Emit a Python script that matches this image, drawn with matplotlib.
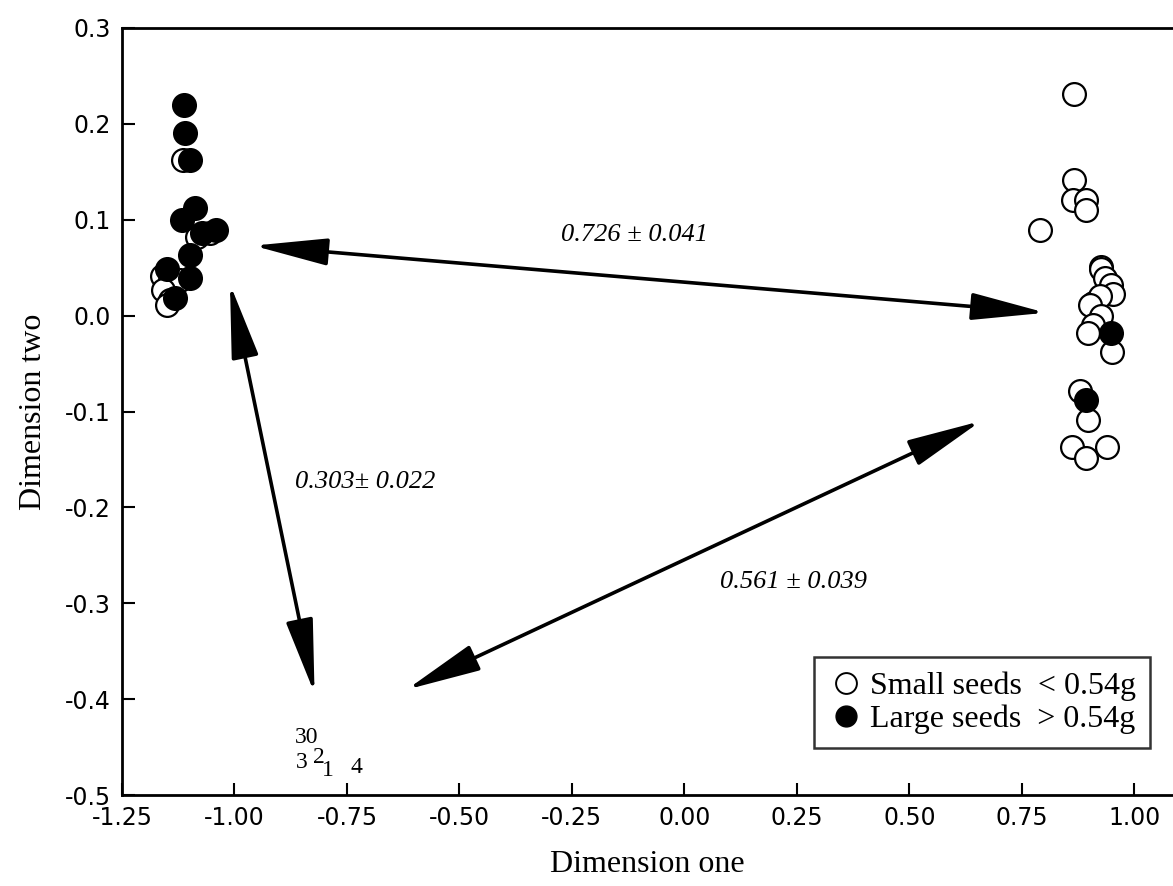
import numpy as np
import matplotlib.pyplot as plt
from matplotlib.lines import Line2D

# seed groups in the two ordination dimensions
small_x = [-1.114, -1.054, -1.084, -1.162, -1.143, -1.121, -1.158, -1.143, -1.151,
           0.866, 0.866, 0.864, 0.892, 0.892, 0.790, 0.927, 0.927, 0.934, 0.949,
           0.953, 0.909, 0.923, 0.901, 0.927, 0.909, 0.897, 0.951, 0.880, 0.897,
           0.862, 0.892, 0.939]
small_y = [0.162, 0.086, 0.082, 0.041, 0.037, 0.037, 0.027, 0.016, 0.011,
           0.231, 0.141, 0.121, 0.121, 0.110, 0.089, 0.051, 0.049, 0.039, 0.032,
           0.023, 0.013, 0.020, 0.011, 0.000, -0.010, -0.018, -0.038, -0.079, -0.109,
           -0.137, -0.149, -0.137]
large_x = [-1.112, -1.110, -1.099, -1.088, -1.117, -1.040, -1.073, -1.099, -1.151,
           -1.099, -1.132, 0.949, 0.893]
large_y = [0.220, 0.190, 0.162, 0.112, 0.100, 0.089, 0.086, 0.063, 0.049,
           0.039, 0.018, -0.018, -0.088]

# distances between groups (arrow ends and labels)
arrows = [((-0.958, 0.073), (0.803, 0.003)),
          ((-1.010, 0.033), (-0.822, -0.394)),
          ((-0.617, -0.390), (0.659, -0.110))]
dist_labels = ["0.726 ± 0.041", "0.303± 0.022", "0.561 ± 0.039"]
dist_pos = [(-0.11, 0.084), (-0.71, -0.174), (0.243, -0.278)]

# small numbers near the lower group
num_labels = ["30", "3", "2", "1", "4"]
num_x = [-0.839, -0.850, -0.812, -0.792, -0.728]
num_y = [-0.4395, -0.4666, -0.4604, -0.474, -0.4708]

xticks = [-1.25, -1.00, -0.75, -0.50, -0.25, 0.00, 0.25, 0.50, 0.75, 1.00]
xtick_labels = ["-1.25", "-1.00", "-0.75", "-0.50", "-0.25", "0.00", "0.25", "0.50", "0.75", "1.00"]
yticks = [-0.5, -0.4, -0.3, -0.2, -0.1, 0.0, 0.1, 0.2, 0.3]
ytick_labels = ["-0.5", "-0.4", "-0.3", "-0.2", "-0.1", "0.0", "0.1", "0.2", "0.3"]

serif = ["Liberation Serif", "DejaVu Serif"]

fig = plt.figure(figsize=(11.73, 8.86), dpi=100)
ax = fig.add_axes([0.104, 0.1027, 0.896, 0.8657])

ax.scatter(small_x, small_y, s=270, facecolor="white", edgecolor="black", linewidth=1.6, zorder=3)
ax.scatter(large_x, large_y, s=270, facecolor="black", edgecolor="black", linewidth=1.6, zorder=4)

for (p0, p1) in arrows:
    ax.annotate("", xy=p1, xytext=p0,
                arrowprops=dict(arrowstyle="<|-|>,head_length=2.3,head_width=0.42",
                                color="black", lw=2.6, mutation_scale=20,
                                shrinkA=0, shrinkB=0))

for t, (x, y) in zip(dist_labels, dist_pos):
    ax.text(x, y, t, ha="center", va="center", fontsize=19, style="italic", family=serif)

for t, x, y in zip(num_labels, num_x, num_y):
    ax.text(x, y, t, ha="center", va="center", fontsize=17, family=serif)

ax.set_xlim(-1.25, 1.086)
ax.set_ylim(-0.5, 0.3)
ax.set_xticks(xticks)
ax.set_xticklabels(xtick_labels)
ax.set_yticks(yticks)
ax.set_yticklabels(ytick_labels)
ax.tick_params(direction="in", length=9, width=1.5, labelsize=17, pad=8)

ax.spines["right"].set_visible(False)
for s in ["left", "bottom", "top"]:
    ax.spines[s].set_linewidth(2)

ax.set_xlabel("Dimension one", fontsize=23, family=serif, labelpad=14)
ax.set_ylabel("Dimension two", fontsize=23, family=serif, labelpad=12)

handles = [Line2D([], [], marker="o", ls="", markersize=15, markerfacecolor="white",
                  markeredgecolor="black", markeredgewidth=1.4),
           Line2D([], [], marker="o", ls="", markersize=15, markerfacecolor="black",
                  markeredgecolor="black")]
leg = ax.legend(handles, ["Small seeds  < 0.54g", "Large seeds  > 0.54g"],
                loc="lower right", bbox_to_anchor=(0.978, 0.061), frameon=True,
                fancybox=False, edgecolor="black", handletextpad=0.2, handlelength=1.1,
                borderpad=0.45, labelspacing=0.1, borderaxespad=0,
                prop={"family": serif, "size": 23})
leg.get_frame().set_linewidth(1.8)

fig.savefig("out.png", dpi=100)
